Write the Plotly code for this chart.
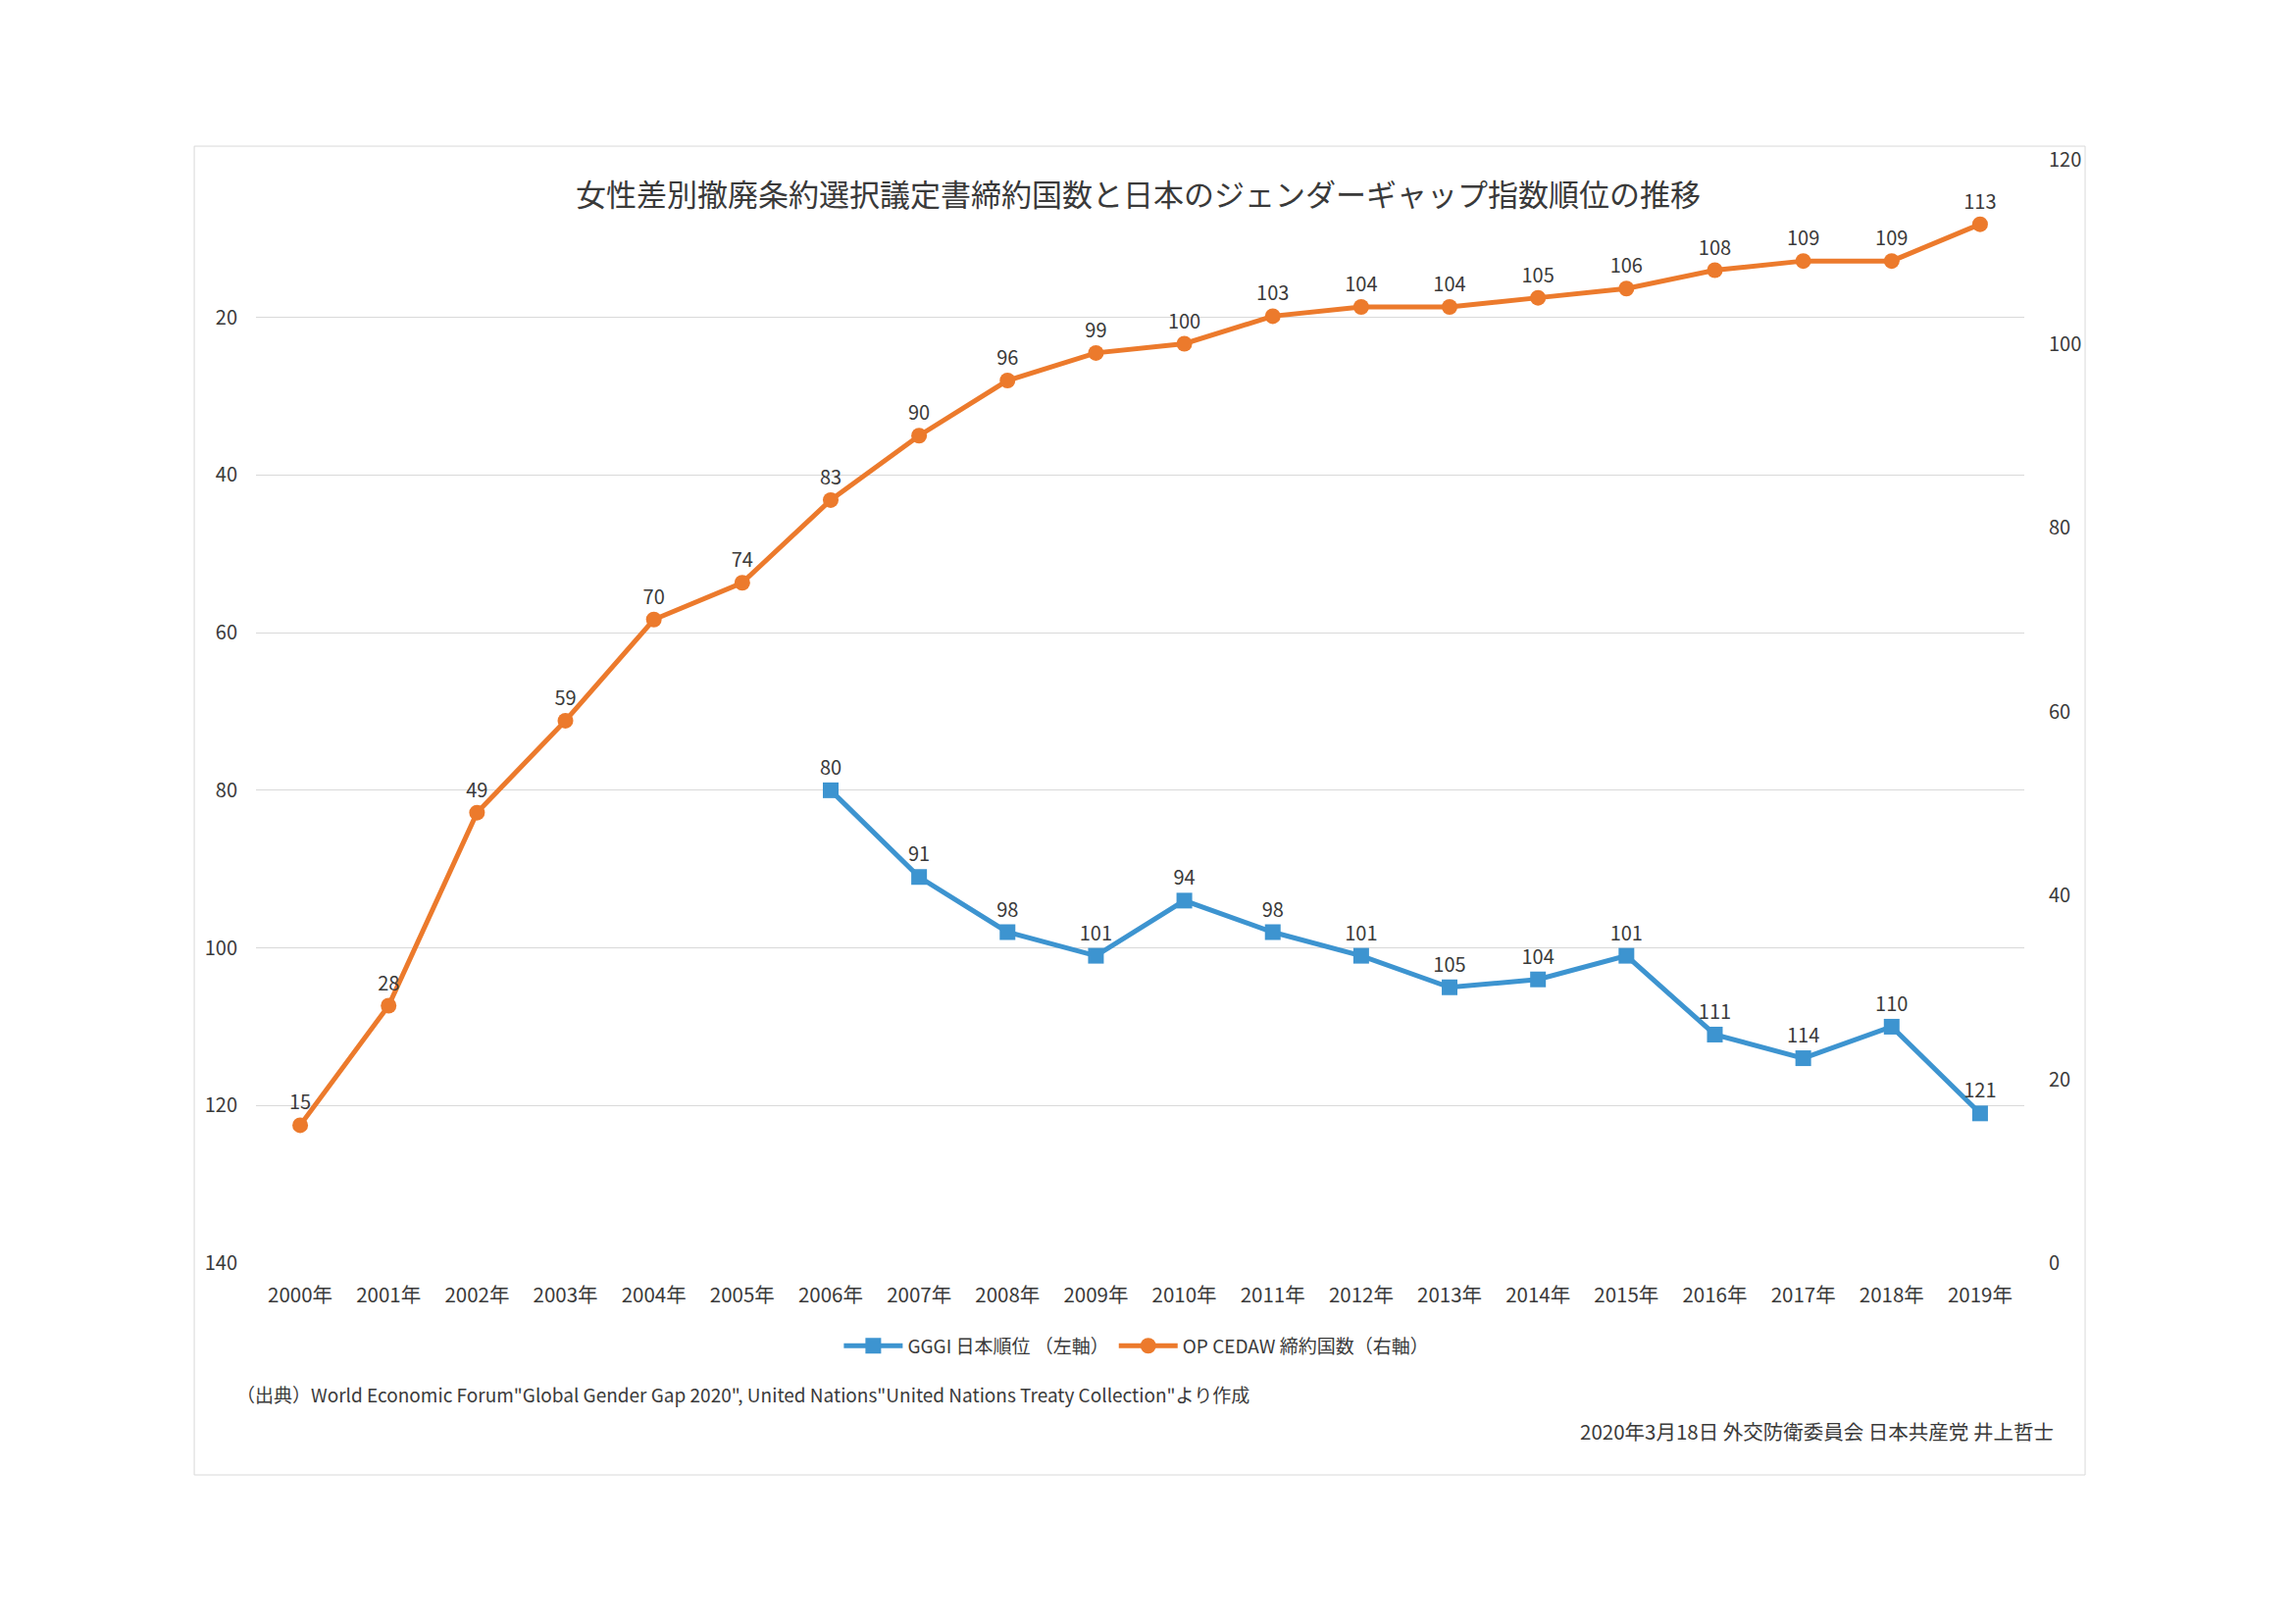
import plotly.graph_objects as go

years = [f"{y}年" for y in range(2000, 2020)]
gggi_years = [f"{y}年" for y in range(2006, 2020)]
gggi_rank = [80, 91, 98, 101, 94, 98, 101, 105, 104, 101, 111, 114, 110, 121]
cedaw_count = [15, 28, 49, 59, 70, 74, 83, 90, 96, 99, 100, 103, 104, 104, 105, 106, 108, 109, 109, 113]
left_ticks = [0, 20, 40, 60, 80, 100, 120, 140]
right_ticks = [0, 20, 40, 60, 80, 100, 120]

title = "女性差別撤廃条約選択議定書締約国数と日本のジェンダーギャップ指数順位の推移"
source = '（出典）World Economic Forum"Global Gender Gap 2020", United Nations"United Nations Treaty Collection"より作成'
credit = "2020年3月18日 外交防衛委員会 日本共産党 井上哲士"

FONT = "Noto Sans CJK JP"
TXT = "#3a3a3a"
BLUE = "#3d94d0"
ORANGE = "#ec7a2c"

fig = go.Figure()
fig.add_trace(go.Scatter(
    x=gggi_years, y=gggi_rank, name="GGGI 日本順位 （左軸）",
    mode="lines+markers+text", text=[str(v) for v in gggi_rank],
    textposition="top center", textfont=dict(size=20, color=TXT, family=FONT),
    line=dict(color=BLUE, width=5), marker=dict(symbol="square", size=16, color=BLUE),
    yaxis="y", cliponaxis=False))
fig.add_trace(go.Scatter(
    x=years, y=cedaw_count, name="OP CEDAW 締約国数（右軸）",
    mode="lines+markers+text", text=[str(v) for v in cedaw_count],
    textposition="top center", textfont=dict(size=20, color=TXT, family=FONT),
    line=dict(color=ORANGE, width=5), marker=dict(symbol="circle", size=16, color=ORANGE),
    yaxis="y2", cliponaxis=False))

fig.update_layout(
    width=2339, height=1656,
    paper_bgcolor="white", plot_bgcolor="white",
    margin=dict(l=253, r=283, t=155, b=376, autoexpand=False),
    font=dict(family=FONT, color=TXT, size=20),
    showlegend=True,
    legend=dict(orientation="h", x=0.498, xanchor="center", y=-0.075, yanchor="middle",
                font=dict(size=19, color=TXT, family=FONT), itemwidth=60,
                bgcolor="rgba(0,0,0,0)"),
    xaxis=dict(type="category", categoryorder="array", categoryarray=years,
               range=[-0.5, 19.5], autorange=False,
               showgrid=False, showline=False, zeroline=False, ticks="",
               tickfont=dict(size=20.5, color=TXT, family=FONT), ticklabelstandoff=18),
    yaxis=dict(range=[140, 0], autorange=False, tickvals=left_ticks,
               ticktext=["" if v == 0 else str(v) for v in left_ticks],
               showgrid=True, gridcolor="#d9d9d9", gridwidth=1, zeroline=False,
               showline=False, ticks="", tickfont=dict(size=20, color=TXT, family=FONT),
               ticklabelstandoff=18),
    yaxis2=dict(range=[0, 120], autorange=False, tickvals=right_ticks, overlaying="y", side="right",
                showgrid=False, zeroline=False, showline=False, ticks="",
                tickfont=dict(size=20, color=TXT, family=FONT), ticklabelstandoff=24),
    annotations=[
        dict(text=title, xref="paper", yref="paper", x=0.499, y=0.9698,
             xanchor="center", yanchor="middle", showarrow=False,
             font=dict(size=31, color=TXT, family=FONT)),
        dict(text=source, xref="paper", yref="paper", x=-0.012, y=-0.119,
             xanchor="left", yanchor="middle", showarrow=False,
             font=dict(size=19, color=TXT, family=FONT)),
        dict(text=credit, xref="paper", yref="paper", x=1.0177, y=-0.152,
             xanchor="right", yanchor="middle", showarrow=False,
             font=dict(size=20.5, color=TXT, family=FONT)),
    ],
    shapes=[dict(type="rect", xref="paper", yref="paper", x0=-0.0349, x1=1.0344,
                 y0=-0.192, y1=1.0124, line=dict(color="#d9d9d9", width=1),
                 fillcolor="rgba(0,0,0,0)", layer="below")],
)

fig.write_html("out.html")
